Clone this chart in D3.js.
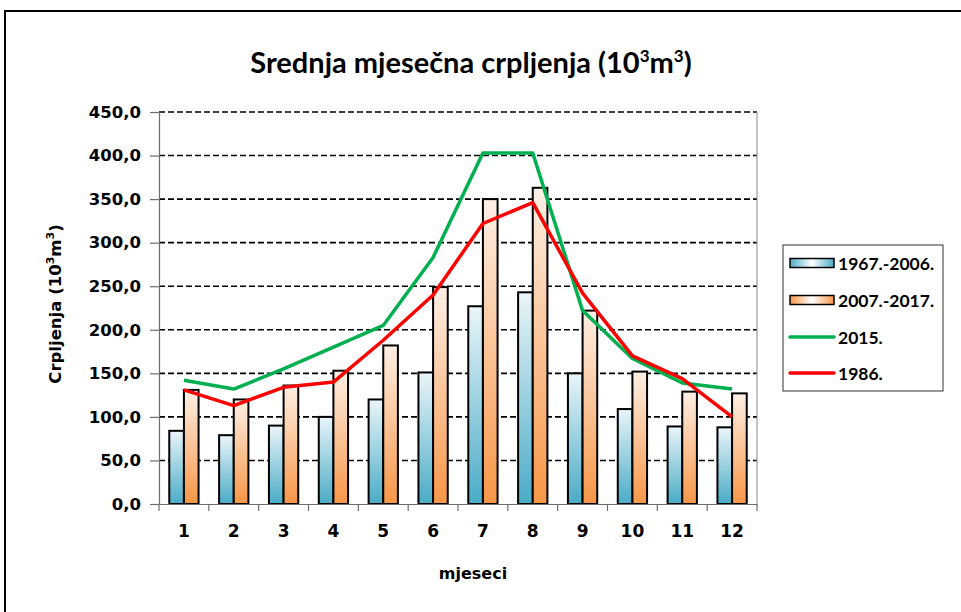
<!DOCTYPE html>
<html><head><meta charset="utf-8">
<script src="https://cdn.jsdelivr.net/npm/d3@7"></script>
<style>body{margin:0;background:#fff}svg{display:block}</style>
</head><body><svg id="c" width="961" height="612"></svg>
<script>
const months = ["1","2","3","4","5","6","7","8","9","10","11","12"];
const avg1967_2006 = [84, 79, 90, 100, 120, 151, 227, 243, 150, 109, 89, 88];
const avg2007_2017 = [131, 120, 136, 153, 182, 249, 350, 363, 222, 152, 129, 127];
const year2015 = [142, 132, 155, 180, 205, 283, 403, 403, 222, 167, 139, 132];
const year1986 = [131, 113, 134, 140, 188, 240, 322, 346, 242, 170, 144, 100];
const yTicks = [0, 50, 100, 150, 200, 250, 300, 350, 400, 450];
const seriesNames = ["1967.-2006.", "2007.-2017.", "2015.", "1986."];

const svg = d3.select("#c");
const L = 159, R = 757, T = 112, B = 504;

// outer frame
svg.append("path").attr("d", "M5,612 L5,11 L962,11").attr("fill", "none").attr("stroke", "#000").attr("stroke-width", 2);

const defs = svg.append("defs");
function vgrad(id, top, bot) {
  const g = defs.append("linearGradient").attr("id", id).attr("x1", 0).attr("y1", 0).attr("x2", 0).attr("y2", 1);
  g.append("stop").attr("offset", "0%").attr("stop-color", top);
  g.append("stop").attr("offset", "100%").attr("stop-color", bot);
}
function hgrad(id, edge) {
  const g = defs.append("linearGradient").attr("id", id).attr("x1", 0).attr("y1", 0).attr("x2", 1).attr("y2", 0);
  g.append("stop").attr("offset", "0%").attr("stop-color", edge);
  g.append("stop").attr("offset", "50%").attr("stop-color", "#ffffff");
  g.append("stop").attr("offset", "100%").attr("stop-color", edge);
}
vgrad("gBlue", "#eaf5f9", "#4aabc6");
vgrad("gOrange", "#fef0e6", "#f79646");
hgrad("lBlue", "#4aabc6");
hgrad("lOrange", "#f79646");

const x = d3.scaleBand().domain(months).range([L, R]).paddingInner(0).paddingOuter(0);
const y = d3.scaleLinear().domain([0, 450]).range([B, T]);
const bw = x.bandwidth();
const barW = bw * 0.294;

// gridlines
svg.append("g").selectAll("line").data(yTicks.filter(d => d > 0)).join("line")
  .attr("x1", L).attr("x2", R).attr("y1", d => y(d)).attr("y2", d => y(d))
  .attr("stroke", "#000").attr("stroke-width", 1.6).attr("stroke-dasharray", "6,3");

// plot right border
svg.append("line").attr("x1", R).attr("x2", R).attr("y1", T).attr("y2", B).attr("stroke", "#8a8a8a").attr("stroke-width", 1);

// bars
const barData = months.map((m, i) => ({m, a: avg1967_2006[i], b: avg2007_2017[i]}));
const bg = svg.append("g");
bg.selectAll("rect.a").data(barData).join("rect").attr("class", "a")
  .attr("x", d => x(d.m) + bw / 2 - barW).attr("width", barW)
  .attr("y", d => y(d.a)).attr("height", d => y(0) - y(d.a))
  .attr("fill", "url(#gBlue)").attr("stroke", "#000").attr("stroke-width", 2);
bg.selectAll("rect.b").data(barData).join("rect").attr("class", "b")
  .attr("x", d => x(d.m) + bw / 2).attr("width", barW)
  .attr("y", d => y(d.b)).attr("height", d => y(0) - y(d.b))
  .attr("fill", "url(#gOrange)").attr("stroke", "#000").attr("stroke-width", 2);

// axes
const yAxis = svg.append("g").attr("transform", `translate(${L},0)`)
  .call(d3.axisLeft(y).tickValues(yTicks).tickFormat(d => d3.format(".1f")(d).replace(".", ",")).tickSize(9).tickPadding(9));
yAxis.select(".domain").attr("stroke", "#6e6e6e").attr("stroke-width", 1.2);
yAxis.selectAll(".tick line").attr("stroke", "#6e6e6e").attr("stroke-width", 1.2);
yAxis.selectAll(".tick text").attr("font-family", "DejaVu Sans").attr("font-weight", "bold").attr("font-size", 16.5).attr("fill", "#000");

const xAxis = svg.append("g").attr("transform", `translate(0,${B})`)
  .call(d3.axisBottom(x).tickSize(0).tickPadding(21));
xAxis.select(".domain").attr("stroke", "#6e6e6e").attr("stroke-width", 1.2);
xAxis.selectAll(".tick text").attr("font-family", "DejaVu Sans").attr("font-weight", "bold").attr("font-size", 17).attr("fill", "#000");
const bounds = months.map(m => x(m)).concat([x.range()[1]]);
xAxis.selectAll("line.bt").data(bounds).join("line").attr("class", "bt")
  .attr("x1", d => d).attr("x2", d => d).attr("y1", 0).attr("y2", 7)
  .attr("stroke", "#6e6e6e").attr("stroke-width", 1.2);

// lines
const lineGen = d3.line().x((d, i) => x(months[i]) + bw / 2).y(d => y(d));
svg.append("path").datum(year2015).attr("d", lineGen).attr("fill", "none").attr("stroke", "#00b050").attr("stroke-width", 3.5).attr("stroke-linejoin", "round");
svg.append("path").datum(year1986).attr("d", lineGen).attr("fill", "none").attr("stroke", "#ff0000").attr("stroke-width", 3.5).attr("stroke-linejoin", "round");

// title
const title = svg.append("text").attr("x", 471).attr("y", 73).attr("text-anchor", "middle")
  .attr("font-family", "Lato").attr("font-weight", "bold").attr("font-size", 29).attr("fill", "#000");
title.append("tspan").text("Srednja mjesečna crpljenja (10");
title.append("tspan").attr("font-size", 17).attr("dy", -11).text("3");
title.append("tspan").attr("dy", 11).text("m");
title.append("tspan").attr("font-size", 17).attr("dy", -11).text("3");
title.append("tspan").attr("dy", 11).text(")");

// x title
svg.append("text").attr("x", 473).attr("y", 579).attr("text-anchor", "middle")
  .attr("font-family", "DejaVu Sans").attr("font-weight", "bold").attr("font-size", 16).text("mjeseci");

// y title
const yt = svg.append("text").attr("transform", "translate(61,304) rotate(-90)").attr("text-anchor", "middle")
  .attr("font-family", "DejaVu Sans").attr("font-weight", "bold").attr("font-size", 16.5).attr("fill", "#000");
yt.append("tspan").text("Crpljenja (10");
yt.append("tspan").attr("font-size", 11).attr("dy", -7).text("3");
yt.append("tspan").attr("dy", 7).text("m");
yt.append("tspan").attr("font-size", 11).attr("dy", -7).text("3");
yt.append("tspan").attr("dy", 7).text(")");

// legend
const lg = svg.append("g");
lg.append("rect").attr("x", 783).attr("y", 245).attr("width", 160).attr("height", 146)
  .attr("fill", "#fff").attr("stroke", "#333").attr("stroke-width", 1);
const rowsY = [263, 300, 337, 373];
const legItems = seriesNames.map((n, i) => ({n, i}));
lg.selectAll("g.it").data(legItems).join("g").attr("class", "it").each(function(d) {
  const g = d3.select(this);
  const cy = rowsY[d.i];
  if (d.i < 2) {
    g.append("rect").attr("x", 790).attr("y", cy - 4.5).attr("width", 44).attr("height", 9)
      .attr("fill", d.i === 0 ? "url(#lBlue)" : "url(#lOrange)").attr("stroke", "#000").attr("stroke-width", 1.5);
  } else {
    g.append("line").attr("x1", 790).attr("x2", 834).attr("y1", cy).attr("y2", cy)
      .attr("stroke", d.i === 2 ? "#00b050" : "#ff0000").attr("stroke-width", 3.5).attr("stroke-linecap", "round");
  }
  g.append("text").attr("x", 838).attr("y", cy).attr("dominant-baseline", "central")
    .attr("font-family", "Lato").attr("font-weight", "bold").attr("font-size", 17.5).text(d.n);
});
</script></body></html>
